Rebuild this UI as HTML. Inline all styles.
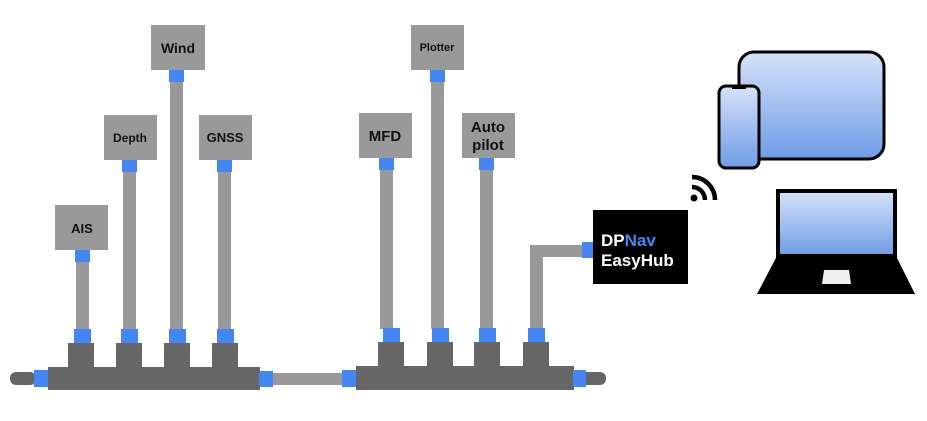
<!DOCTYPE html>
<html><head><style>
body{margin:0;background:#fff;width:927px;height:416px;overflow:hidden;font-family:"Liberation Sans",sans-serif}
svg text{font-family:"Liberation Sans",sans-serif;font-weight:bold}
</style></head><body>
<svg width="927" height="416" viewBox="0 0 927 416" xmlns="http://www.w3.org/2000/svg">
<defs>
<linearGradient id="g" x1="0" y1="0" x2="0" y2="1"><stop offset="0" stop-color="#d6e3f8"/><stop offset="1" stop-color="#6f9be6"/></linearGradient>
</defs>
<g fill="#999">
<rect x="76" y="262" width="13" height="67"/>
<rect x="123" y="172" width="13" height="157"/>
<rect x="170" y="82" width="13" height="247"/>
<rect x="218" y="172" width="13" height="157"/>
<rect x="380" y="170" width="13" height="159"/>
<rect x="431" y="82" width="13" height="247"/>
<rect x="480" y="170" width="13" height="159"/>
<rect x="530" y="245" width="13" height="84"/>
<rect x="530" y="245" width="53" height="12"/>
<rect x="273" y="373" width="70" height="12"/>
</g>
<g fill="#999">
<rect x="55" y="205" width="53" height="45"/>
<rect x="104" y="115" width="53" height="45"/>
<rect x="151" y="25" width="54" height="45"/>
<rect x="199" y="115" width="53" height="45"/>
<rect x="359" y="113" width="53" height="45"/>
<rect x="411" y="25" width="53" height="45"/>
<rect x="462" y="113" width="53" height="45"/>
</g>
<g font-size="13" fill="#111" text-anchor="middle">
<text x="82" y="233">AIS</text>
<text x="130" y="142" font-size="12">Depth</text>
<text x="178" y="53" font-size="14">Wind</text>
<text x="225" y="142" font-size="13">GNSS</text>
<text x="385" y="141" font-size="15">MFD</text>
<text x="437" y="51" font-size="11">Plotter</text>
<text x="488" y="132" font-size="15">Auto</text>
<text x="488" y="150" font-size="15">pilot</text>
</g>
<g fill="#666">
<rect x="10" y="372" width="26" height="13" rx="6"/>
<rect x="580" y="372" width="26" height="13" rx="6"/>
<rect x="48" y="367" width="212" height="23"/>
<rect x="68" y="343" width="26" height="25"/>
<rect x="116" y="343" width="26" height="25"/>
<rect x="164" y="343" width="26" height="25"/>
<rect x="212" y="343" width="26" height="25"/>
<rect x="356" y="366" width="218" height="24"/>
<rect x="378" y="342" width="26" height="25"/>
<rect x="427" y="342" width="26" height="25"/>
<rect x="474" y="342" width="26" height="25"/>
<rect x="523" y="342" width="26" height="25"/>
</g>
<g fill="#4287f5">
<rect x="75" y="250" width="15" height="12"/>
<rect x="122" y="160" width="15" height="12"/>
<rect x="169" y="70" width="15" height="12"/>
<rect x="217" y="160" width="15" height="12"/>
<rect x="379" y="158" width="15" height="12"/>
<rect x="430" y="70" width="15" height="12"/>
<rect x="479" y="158" width="15" height="12"/>
<rect x="582" y="242" width="11" height="16"/>
<rect x="74" y="329" width="17" height="14"/>
<rect x="121" y="329" width="17" height="14"/>
<rect x="169" y="329" width="17" height="14"/>
<rect x="217" y="329" width="17" height="14"/>
<rect x="383" y="328" width="17" height="14"/>
<rect x="432" y="328" width="17" height="14"/>
<rect x="479" y="328" width="17" height="14"/>
<rect x="528" y="328" width="17" height="14"/>
<rect x="34" y="370" width="14" height="17"/>
<rect x="259" y="371" width="14" height="16"/>
<rect x="342" y="370" width="14" height="17"/>
<rect x="573" y="370" width="13" height="17"/>
</g>
<rect x="593" y="210" width="95" height="74" fill="#000"/>
<text x="601" y="246" font-size="17" fill="#fff">DP<tspan fill="#4287f5">Nav</tspan></text>
<text x="601" y="266" font-size="17" fill="#fff">EasyHub</text>
<g fill="none" stroke="#000" stroke-width="4.5">
<path d="M692 187 A13 13 0 0 1 705 200"/>
<path d="M692 177 A23 23 0 0 1 715 200"/>
</g>
<circle cx="694" cy="198" r="3.5" fill="#000"/>
<rect x="739" y="52" width="145" height="107" rx="15" fill="url(#g)" stroke="#000" stroke-width="3"/>
<rect x="719" y="86" width="40" height="82" rx="7" fill="url(#g)" stroke="#000" stroke-width="3"/>
<rect x="732" y="86" width="14" height="3" fill="#000"/>
<rect x="778" y="191" width="117" height="65" fill="url(#g)" stroke="#000" stroke-width="4"/>
<path d="M777 256 L896 256 L915 294 L757 294 Z" fill="#000"/>
<path d="M824 270 L849 270 L851 284 L822 284 Z" fill="#eee"/>
</svg>
</body></html>
